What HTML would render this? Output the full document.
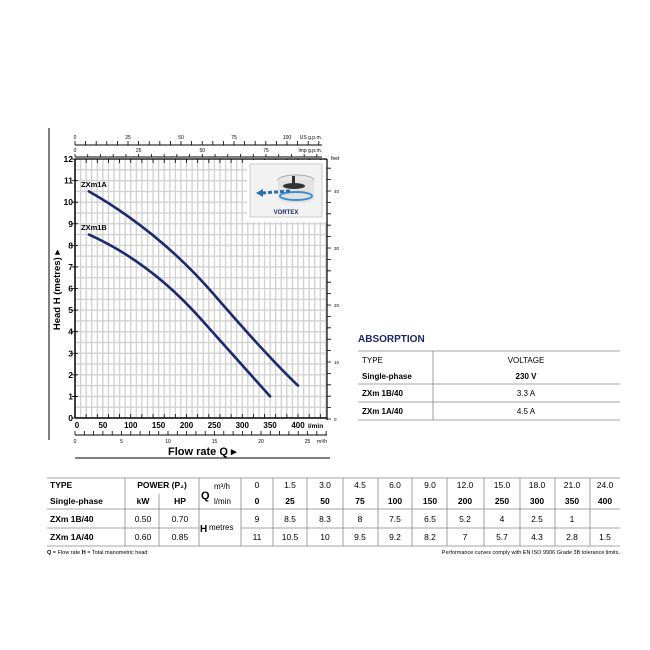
<!DOCTYPE html>
<html><head><meta charset="utf-8"><style>
body{margin:0;background:#fff;}
svg{display:block;font-family:"Liberation Sans",sans-serif;}
</style></head><body>
<svg width="650" height="650" viewBox="0 0 650 650" xmlns="http://www.w3.org/2000/svg">
<defs>
<pattern id="gv" patternUnits="userSpaceOnUse" x="74.35" y="0" width="5.575" height="20"><rect x="0" y="0" width="1.3" height="20" fill="#d0d0d0"/></pattern>
<pattern id="gh" patternUnits="userSpaceOnUse" x="0" y="417.35" width="20" height="10.79"><rect x="0" y="0" width="20" height="1.3" fill="#d0d0d0"/></pattern>
</defs>
<rect width="650" height="650" fill="#fff"/>
<rect x="75" y="159" width="252" height="259" fill="url(#gv)"/>
<rect x="75" y="159" width="252" height="259" fill="url(#gh)"/>

<!-- left labels -->
<g font-size="8.5" font-weight="bold" text-anchor="end">
<text x="73" y="421">0</text><text x="73" y="399.4">1</text><text x="73" y="377.8">2</text><text x="73" y="356.3">3</text><text x="73" y="334.7">4</text><text x="73" y="313.1">5</text><text x="73" y="291.5">6</text><text x="73" y="270">7</text><text x="73" y="248.4">8</text><text x="73" y="226.8">9</text><text x="73" y="205.2">10</text><text x="73" y="183.6">11</text><text x="73" y="162">12</text>
</g>
<!-- left ticks -->
<line x1="75" y1="418.4" x2="75" y2="158" stroke="#000" stroke-width="6" stroke-dasharray="0.8 20.78"/>
<!-- bottom labels -->
<g font-size="8" font-weight="bold" text-anchor="middle">
<text x="77" y="428">0</text><text x="102.9" y="428">50</text><text x="130.8" y="428">100</text><text x="158.6" y="428">150</text><text x="186.5" y="428">200</text><text x="214.4" y="428">250</text><text x="242.3" y="428">300</text><text x="270.1" y="428">350</text><text x="298" y="428">400</text>
</g>
<text x="308" y="428" font-size="6.5" font-weight="bold">l/min</text>
<line x1="74.6" y1="416" x2="327" y2="416" stroke="#000" stroke-width="4" stroke-dasharray="0.8 10.35"/>
<!-- m3/h axis -->
<line x1="75" y1="435" x2="327" y2="435" stroke="#000" stroke-width="1"/>
<line x1="74.6" y1="433" x2="327" y2="433" stroke="#000" stroke-width="4" stroke-dasharray="0.8 8.5"/>
<g font-size="5" text-anchor="middle">
<text x="75" y="443">0</text><text x="121.5" y="443">5</text><text x="168" y="443">10</text><text x="214.5" y="443">15</text><text x="261" y="443">20</text><text x="307.5" y="443">25</text>
</g>
<text x="317" y="443" font-size="5">m³/h</text>
<!-- US gpm -->
<line x1="75" y1="145" x2="322" y2="145" stroke="#000" stroke-width="1"/>
<line x1="74.6" y1="143" x2="322" y2="143" stroke="#000" stroke-width="4" stroke-dasharray="0.8 9.8"/>
<g font-size="5" text-anchor="middle">
<text x="75" y="139">0</text><text x="128" y="139">25</text><text x="181" y="139">50</text><text x="234" y="139">75</text><text x="287" y="139">100</text>
</g>
<text x="322" y="139" font-size="5" text-anchor="end">US g.p.m.</text>
<!-- Imp gpm -->
<line x1="75" y1="157" x2="322" y2="157" stroke="#000" stroke-width="1"/>
<line x1="74.6" y1="155.5" x2="322" y2="155.5" stroke="#000" stroke-width="3" stroke-dasharray="0.8 11.93"/>
<g font-size="5" text-anchor="middle">
<text x="75" y="152">0</text><text x="138.7" y="152">25</text><text x="202.3" y="152">50</text><text x="266" y="152">75</text>
</g>
<text x="322" y="152" font-size="5" text-anchor="end">Imp g.p.m.</text>
<!-- top plot ticks -->
<line x1="74.6" y1="161" x2="327" y2="161" stroke="#000" stroke-width="4" stroke-dasharray="0.8 10.35"/>
<!-- right feet axis ticks -->
<line x1="329" y1="419.4" x2="329" y2="160" stroke="#000" stroke-width="4" stroke-dasharray="0.8 10.6"/>
<g font-size="4.5">
<text x="334" y="421">0</text><text x="334" y="364">10</text><text x="334" y="307">20</text><text x="334" y="250">30</text><text x="334" y="193">40</text>
</g>
<text x="331" y="160" font-size="5">feet</text>

<!-- inset -->
<rect x="247" y="160" width="80" height="62" fill="#fff"/>
<rect x="250" y="164" width="72" height="53" fill="#f2f2f2" stroke="#ccc" stroke-width="1"/>
<ellipse cx="296" cy="180" rx="18" ry="5" fill="#e8e8e8" stroke="#aaa"/>
<rect x="278" y="180" width="36" height="18" fill="#e2e2e2"/>
<ellipse cx="296" cy="198" rx="18" ry="5" fill="#e2e2e2"/>
<ellipse cx="294" cy="186" rx="11" ry="3" fill="#333"/>
<rect x="292" y="176" width="3" height="9" fill="#333"/>
<ellipse cx="296" cy="196" rx="16" ry="4" fill="none" stroke="#3a8fd0" stroke-width="2"/>
<path d="M290 191 L262 193" stroke="#2a6fb0" stroke-width="3" stroke-dasharray="4 2"/>
<polygon points="256,193 263,189 263,197" fill="#2a6fb0"/>
<text x="286" y="214" font-size="6" font-weight="bold" fill="#1b2a66" text-anchor="middle">VORTEX</text>

<!-- axes lines -->
<line x1="75" y1="159" x2="327" y2="159" stroke="#000" stroke-width="1.2"/>
<line x1="75" y1="159" x2="75" y2="418" stroke="#000" stroke-width="1.5"/>
<line x1="75" y1="418" x2="327" y2="418" stroke="#000" stroke-width="1.5"/>
<line x1="327" y1="159" x2="327" y2="420" stroke="#000" stroke-width="1.2"/>
<line x1="49" y1="128" x2="49" y2="440" stroke="#000" stroke-width="1"/>
<line x1="75" y1="458" x2="330" y2="458" stroke="#000" stroke-width="1"/>

<!-- curves -->
<path fill="none" stroke="#1b2a6e" stroke-width="2.6" stroke-linecap="round" d="M88.9,191.4 Q160,232 214.4,295 T298,385.6"/>
<path fill="none" stroke="#1b2a6e" stroke-width="2.6" stroke-linecap="round" d="M88.9,234.6 Q150,262 200,318 T270.1,396.4"/>
<text x="81" y="187" font-size="7.5" font-weight="bold">ZXm1A</text>
<text x="81" y="230" font-size="7.5" font-weight="bold">ZXm1B</text>
<text transform="translate(60,290) rotate(-90)" font-size="9.5" font-weight="bold" text-anchor="middle">Head H (metres) ▸</text>
<text x="168" y="455" font-size="11" font-weight="bold">Flow rate Q ▸</text>

<!-- absorption -->
<text x="358" y="342" font-size="10" font-weight="bold" fill="#1b2a66">ABSORPTION</text>
<g stroke="#888" stroke-width="0.8">
<line x1="358" y1="351" x2="620" y2="351"/>
<line x1="358" y1="384" x2="620" y2="384"/>
<line x1="358" y1="402" x2="620" y2="402"/>
<line x1="358" y1="420" x2="620" y2="420"/>
<line x1="433" y1="351" x2="433" y2="420"/>
</g>
<g font-size="8">
<text x="362" y="363">TYPE</text>
<text x="362" y="379" font-weight="bold">Single-phase</text>
<text x="362" y="396" font-weight="bold">ZXm 1B/40</text>
<text x="362" y="414" font-weight="bold">ZXm 1A/40</text>
<text x="526" y="363" text-anchor="middle">VOLTAGE</text>
<text x="526" y="379" text-anchor="middle" font-weight="bold">230 V</text>
<text x="526" y="396" text-anchor="middle">3.3 A</text>
<text x="526" y="414" text-anchor="middle">4.5 A</text>
</g>

<!-- bottom table -->
<g stroke="#888" stroke-width="0.8">
<line x1="47" y1="478" x2="620" y2="478"/>
<line x1="47" y1="509" x2="620" y2="509"/>
<line x1="47" y1="528" x2="199" y2="528"/>
<line x1="241" y1="528" x2="620" y2="528"/>
<line x1="47" y1="546" x2="620" y2="546"/>
<line x1="125" y1="478" x2="125" y2="546"/>
<line x1="159" y1="494" x2="159" y2="546"/>
<line x1="199" y1="478" x2="199" y2="546"/>
<line x1="241" y1="478" x2="241" y2="546"/>
<line x1="273" y1="478" x2="273" y2="546"/>
<line x1="307" y1="478" x2="307" y2="546"/>
<line x1="343" y1="478" x2="343" y2="546"/>
<line x1="378" y1="478" x2="378" y2="546"/>
<line x1="412" y1="478" x2="412" y2="546"/>
<line x1="447" y1="478" x2="447" y2="546"/>
<line x1="484" y1="478" x2="484" y2="546"/>
<line x1="520" y1="478" x2="520" y2="546"/>
<line x1="555" y1="478" x2="555" y2="546"/>
<line x1="590" y1="478" x2="590" y2="546"/>
</g>
<g font-size="8.5">
<text x="50" y="488" font-weight="bold">TYPE</text>
<text x="50" y="504" font-weight="bold">Single-phase</text>
<text x="50" y="522" font-weight="bold">ZXm 1B/40</text>
<text x="50" y="540" font-weight="bold">ZXm 1A/40</text>
<text x="162" y="488" font-weight="bold" text-anchor="middle">POWER (P₂)</text>
<text x="143" y="504" font-weight="bold" text-anchor="middle">kW</text>
<text x="180" y="504" font-weight="bold" text-anchor="middle">HP</text>
<text x="143" y="522" text-anchor="middle">0.50</text>
<text x="180" y="522" text-anchor="middle">0.70</text>
<text x="143" y="540" text-anchor="middle">0.60</text>
<text x="180" y="540" text-anchor="middle">0.85</text>
<text x="201" y="499" font-size="11" font-weight="bold">Q</text>
<text x="214" y="489" font-size="8">m³/h</text>
<text x="214" y="504" font-size="8">l/min</text>
<text x="200" y="532" font-size="10" font-weight="bold">H</text>
<text x="209" y="530" font-size="8">metres</text>
</g>
<g font-size="8.5" text-anchor="middle">
<text x="257" y="488">0</text><text x="290" y="488">1.5</text><text x="325" y="488">3.0</text><text x="360" y="488">4.5</text><text x="395" y="488">6.0</text><text x="430" y="488">9.0</text><text x="465" y="488">12.0</text><text x="502" y="488">15.0</text><text x="537" y="488">18.0</text><text x="572" y="488">21.0</text><text x="605" y="488">24.0</text>
</g>
<g font-size="8.5" font-weight="bold" text-anchor="middle">
<text x="257" y="504">0</text><text x="290" y="504">25</text><text x="325" y="504">50</text><text x="360" y="504">75</text><text x="395" y="504">100</text><text x="430" y="504">150</text><text x="465" y="504">200</text><text x="502" y="504">250</text><text x="537" y="504">300</text><text x="572" y="504">350</text><text x="605" y="504">400</text>
</g>
<g font-size="8.5" text-anchor="middle">
<text x="257" y="522">9</text><text x="290" y="522">8.5</text><text x="325" y="522">8.3</text><text x="360" y="522">8</text><text x="395" y="522">7.5</text><text x="430" y="522">6.5</text><text x="465" y="522">5.2</text><text x="502" y="522">4</text><text x="537" y="522">2.5</text><text x="572" y="522">1</text>
<text x="257" y="540">11</text><text x="290" y="540">10.5</text><text x="325" y="540">10</text><text x="360" y="540">9.5</text><text x="395" y="540">9.2</text><text x="430" y="540">8.2</text><text x="465" y="540">7</text><text x="502" y="540">5.7</text><text x="537" y="540">4.3</text><text x="572" y="540">2.8</text><text x="605" y="540">1.5</text>
</g>
<text x="47" y="554" font-size="5.5"><tspan font-weight="bold">Q</tspan> = Flow rate   <tspan font-weight="bold">H</tspan> = Total manometric head</text>
<text x="620" y="554" font-size="5.5" text-anchor="end">Performance curves comply with EN ISO 9906 Grade 3B tolerance limits.</text>
</svg>
</body></html>
